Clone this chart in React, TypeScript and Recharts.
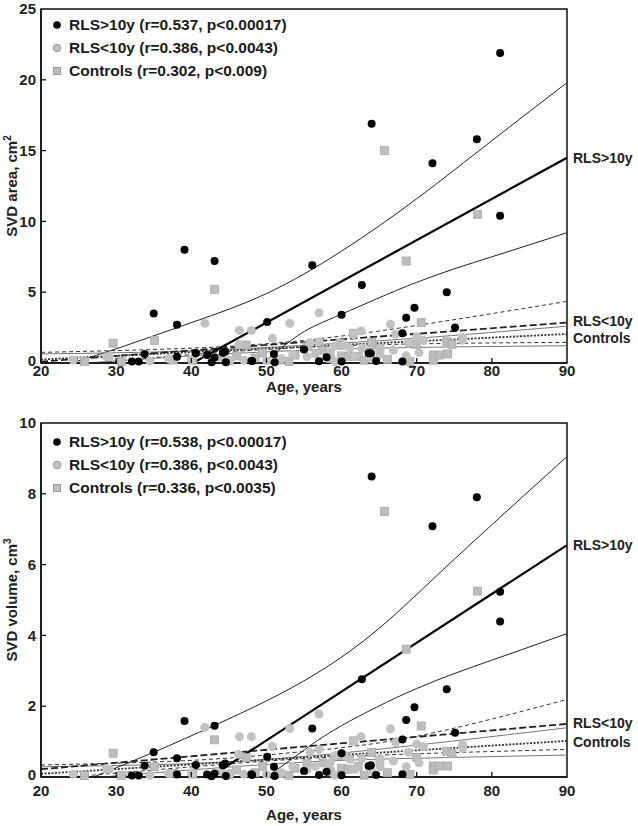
import React from 'react';
import { ComposedChart, Scatter, Line, XAxis, YAxis, ReferenceArea, ReferenceDot, Legend } from 'recharts';

type Pt = [number, number];

const FONT = "'Liberation Sans', Arial, Helvetica, sans-serif";

// ---- tick labels / texts ----
const xTicks = [20, 30, 40, 50, 60, 70, 80, 90];
const areaTicks = [0, 5, 10, 15, 20, 25];
const volumeTicks = [0, 2, 4, 6, 8, 10];
const legendArea = ['RLS>10y (r=0.537, p<0.00017)', 'RLS<10y (r=0.386, p<0.0043)', 'Controls (r=0.302, p<0.009)'];
const legendVolume = ['RLS>10y (r=0.538, p<0.00017)', 'RLS<10y (r=0.386, p<0.0043)', 'Controls (r=0.336, p<0.0035)'];
const endLabels = ['RLS>10y', 'RLS<10y', 'Controls'];
const areaEndLabelY = [14.5, 2.95, 1.75];
const volumeEndLabelY = [6.55, 1.53, 0.99];

// ---- RLS > 10 years ----
const longAges = [32.1, 33.0, 33.8, 35.0, 38.1, 38.1, 39.1, 40.6, 42.1, 42.7, 43.1, 43.1, 44.2, 44.5, 44.6, 48.0, 48.1, 50.1, 51.0, 51.1, 55.0, 56.1, 57.0, 58.0, 60.0, 60.0, 62.7, 63.6, 63.9, 64.0, 64.6, 68.1, 68.1, 68.6, 69.7, 72.1, 74.0, 75.1, 78.0, 81.1, 81.1];
const longArea = [0.1, 0.1, 0.64, 3.5, 2.7, 0.45, 8.0, 0.68, 0.56, 0.05, 7.2, 0.38, 0.73, 0.8, 0.05, 0.15, 0.15, 2.9, 0.64, 0.05, 0.95, 6.9, 0.12, 0.4, 3.4, 0.1, 5.5, 0.68, 0.68, 16.9, 0.14, 2.1, 0.1, 3.2, 3.9, 14.1, 5.0, 2.5, 15.8, 21.9, 10.4];
const longVolume = [0.04, 0.04, 0.32, 0.7, 0.53, 0.07, 1.58, 0.34, 0.07, 0.02, 1.45, 0.1, 0.33, 0.38, 0.03, 0.08, 0.06, 0.57, 0.29, 0.03, 0.17, 1.37, 0.06, 0.15, 0.67, 0.05, 2.76, 0.31, 0.33, 8.49, 0.06, 1.06, 0.08, 1.61, 1.97, 7.08, 2.48, 1.25, 7.9, 5.23, 4.39];

// ---- RLS < 10 years ----
const shortAges = [24.3, 28.7, 29.1, 34.5, 37.0, 40.0, 41.8, 44.0, 45.2, 46.3, 46.4, 47.0, 48.0, 50.0, 50.8, 52.0, 53.1, 53.5, 55.4, 55.8, 56.5, 57.0, 57.0, 58.5, 59.1, 59.1, 60.3, 61.1, 61.6, 61.8, 62.6, 62.7, 64.0, 65.1, 65.1, 66.5, 66.9, 67.2, 68.6, 68.9, 70.0, 70.3, 70.9, 76.1, 76.1];
const shortArea = [0.21, 0.45, 0.45, 0.15, 0.3, 0.25, 2.8, 0.35, 0.2, 1.3, 2.3, 0.2, 2.3, 0.15, 1.74, 0.3, 2.8, 0.6, 0.45, 1.43, 0.64, 3.55, 1.5, 0.8, 1.2, 0.1, 1.3, 1.04, 2.0, 0.45, 2.26, 1.04, 0.3, 0.6, 1.04, 2.73, 0.92, 2.03, 0.52, 1.39, 1.86, 0.73, 1.62, 1.81, 1.6];
const shortVolume = [0.08, 0.23, 0.22, 0.05, 0.1, 0.12, 1.4, 0.15, 0.1, 0.64, 1.14, 0.08, 1.14, 0.07, 0.86, 0.12, 1.37, 0.3, 0.2, 0.69, 0.3, 1.78, 0.78, 0.4, 0.6, 0.05, 0.62, 0.5, 1.02, 0.22, 1.14, 0.52, 0.15, 0.29, 0.52, 1.36, 0.45, 0.98, 0.29, 0.7, 0.93, 0.4, 0.86, 0.92, 0.81];

// ---- Controls ----
const ctrlAges = [25.8, 29.6, 30.7, 35.1, 37.6, 40.2, 43.1, 45.0, 46.0, 47.3, 48.5, 49.5, 51.8, 53.0, 53.8, 55.4, 57.5, 58.5, 59.8, 60.0, 60.9, 61.6, 62.2, 63.0, 64.0, 65.1, 65.7, 66.1, 68.6, 69.1, 70.0, 70.6, 72.2, 72.2, 73.0, 74.0, 74.1, 74.7, 78.1];
const ctrlArea = [0.1, 1.4, 0.1, 1.6, 0.21, 0.2, 5.2, 0.15, 0.5, 1.27, 0.35, 0.7, 0.21, 0.1, 0.56, 1.15, 0.9, 0.3, 1.39, 0.5, 0.45, 2.1, 0.45, 0.2, 1.43, 1.04, 15.0, 0.26, 7.2, 0.09, 1.32, 2.85, 0.56, 0.2, 0.56, 1.5, 0.64, 1.32, 10.5];
const ctrlVolume = [0.04, 0.67, 0.05, 0.29, 0.1, 0.08, 1.05, 0.06, 0.2, 0.55, 0.12, 0.3, 0.1, 0.05, 0.25, 0.39, 0.4, 0.15, 0.6, 0.25, 0.22, 1.02, 0.3, 0.05, 0.69, 0.48, 7.5, 0.12, 3.61, 0.07, 0.55, 1.44, 0.31, 0.2, 0.31, 0.72, 0.31, 0.66, 5.25];

// ---- regression lines and confidence bands ----
const areaLongFit: Pt[] = [[40.2, 0], [90, 14.5]];
const areaLongUpper: Pt[] = [[24, 0], [30, 1.0], [40, 2.85], [50, 4.9], [60, 7.9], [70, 11.6], [80, 15.7], [90, 19.8]];
const areaLongLower: Pt[] = [[49.6, 0], [54.5, 2.05], [60, 3.45], [70, 5.7], [80, 7.5], [90, 9.2]];
const areaShortFit: Pt[] = [[20, 0.1], [90, 2.85]];
const areaShortUpper: Pt[] = [[20, 0.75], [40, 1.05], [55, 1.6], [70, 2.65], [90, 4.35]];
const areaShortLower: Pt[] = [[28, 0], [40, 0.6], [55, 1.1], [70, 1.35], [90, 1.46]];
const areaCtrlFit: Pt[] = [[20, 0.25], [90, 2.05]];
const areaCtrlUpper: Pt[] = [[20, 0.64], [40, 0.85], [55, 1.25], [70, 1.75], [90, 2.6]];
const areaCtrlLower: Pt[] = [[26, 0], [40, 0.5], [55, 0.9], [70, 1.1], [90, 1.22]];

const volLongFit: Pt[] = [[42.5, 0], [90, 6.55]];
const volLongUpper: Pt[] = [[27, 0], [35, 0.7], [43, 1.45], [50, 2.15], [57, 2.97], [65, 4.2], [75, 6.15], [90, 9.05]];
const volLongLower: Pt[] = [[50, 0], [54.5, 0.68], [60, 1.45], [70, 2.5], [80, 3.3], [90, 4.05]];
const volShortFit: Pt[] = [[20, 0.22], [90, 1.5]];
const volShortUpper: Pt[] = [[20, 0.34], [40, 0.47], [55, 0.72], [70, 1.15], [90, 2.19]];
const volShortLower: Pt[] = [[24, 0], [35, 0.2], [50, 0.45], [65, 0.62], [90, 0.78]];
const volCtrlFit: Pt[] = [[20, 0.09], [90, 1.02]];
const volCtrlUpper: Pt[] = [[20, 0.29], [40, 0.38], [55, 0.58], [70, 0.9], [90, 1.39]];
const volCtrlLower: Pt[] = [[28, 0], [40, 0.2], [55, 0.42], [70, 0.53], [90, 0.62]];

const toPoints = (ages: number[], vals: number[]) => ages.map((x, i) => ({ x, y: vals[i] }));
const toLine = (pts: Pt[]) => pts.map(([x, y]) => ({ x, y }));

type LineKind = 'fitLong' | 'bandLong' | 'fitShort' | 'bandShort' | 'fitCtrl' | 'bandCtrl';
const lineStyles: Record<LineKind, any> = {
  fitLong: { stroke: '#000', strokeWidth: 2.2 },
  bandLong: { stroke: '#222', strokeWidth: 1 },
  fitShort: { stroke: '#222', strokeWidth: 1.8, strokeDasharray: '7 3' },
  bandShort: { stroke: '#333', strokeWidth: 1, strokeDasharray: '4 3' },
  fitCtrl: { stroke: '#333', strokeWidth: 1.8, strokeDasharray: '2 1.5' },
  bandCtrl: { stroke: '#777', strokeWidth: 1 },
};

const BlackDot = (p: any) => <circle cx={p.cx} cy={p.cy} r={4} fill="#000" />;
const GrayDot = (p: any) => <circle cx={p.cx} cy={p.cy} r={4.5} fill="#c2c2c2" />;
const GraySquare = (p: any) => (
  <rect x={p.cx - 4} y={p.cy - 4} width={8} height={8} fill="#bdbdbd" stroke="#a9a9a9" strokeWidth={0.8} />
);

const makeXTick = (margin: number, ticks: number[]) => (props: any) => {
  const { x, y, payload } = props;
  const v = payload.value;
  const axisY = y - margin;
  const isEnd = v === ticks[0] || v === ticks[ticks.length - 1];
  return (
    <g>
      {!isEnd && <line x1={x} x2={x} y1={axisY} y2={axisY - 5} stroke="#111" strokeWidth={1.3} />}
      <text x={x} y={y} dy="0.71em" textAnchor="middle" fontFamily={FONT} fontWeight="bold" fontSize={15} fill="#222">{v}</text>
    </g>
  );
};

const makeYTick = (margin: number, ticks: number[]) => (props: any) => {
  const { x, y, payload } = props;
  const v = payload.value;
  const axisX = x + margin;
  const isEnd = v === ticks[0] || v === ticks[ticks.length - 1];
  return (
    <g>
      {!isEnd && <line x1={axisX} x2={axisX + 5} y1={y} y2={y} stroke="#111" strokeWidth={1.3} />}
      <text x={x} y={y} dy={v === ticks[0] ? '0.2em' : '0.35em'} textAnchor="end" fontFamily={FONT} fontWeight="bold" fontSize={15} fill="#222">{v}</text>
    </g>
  );
};

const markerFor = (i: number) => {
  if (i === 0) return <circle cx={6} cy={6} r={3.8} fill="#000" />;
  if (i === 1) return <circle cx={6} cy={6} r={3.8} fill="#c2c2c2" stroke="#888" strokeWidth={0.8} />;
  return <rect x={2.5} y={2.5} width={7} height={7} fill="#bdbdbd" stroke="#888" strokeWidth={0.8} />;
};

const LegendBox = ({ labels }: { labels: string[] }) => (
  <div style={{ fontFamily: FONT, fontWeight: 'bold', fontSize: 15.5, color: '#1a1a1a' }}>
    {labels.map((t, i) => (
      <div key={i} style={{ display: 'flex', alignItems: 'center', height: 23, whiteSpace: 'nowrap' }}>
        <svg width={12} height={12} style={{ marginRight: 6 }}>{markerFor(i)}</svg>
        <span>{t}</span>
      </div>
    ))}
  </div>
);

type PanelProps = {
  top: number;
  height: number;
  marginTop: number;
  xAxisHeight: number;
  xTickMargin: number;
  xTitleGap: number;
  yTicks: number[];
  yTitle: string;
  ySup: string;
  long: number[];
  short: number[];
  ctrl: number[];
  lines: { kind: LineKind; pts: Pt[] }[];
  legend: string[];
  legendTop: number;
  endY: number[];
};

const Panel = (p: PanelProps) => {
  const yMax = p.yTicks[p.yTicks.length - 1];
  const XTitle = (lp: any) => {
    const vb = lp.viewBox;
    return (
      <text x={vb.x + vb.width / 2} y={vb.y + p.xTitleGap} dy="0.35em" textAnchor="middle" fontFamily={FONT} fontWeight="bold" fontSize={15} fill="#222">
        Age, years
      </text>
    );
  };
  const YTitle = (lp: any) => {
    const vb = lp.viewBox;
    const cx = vb.x + 12;
    const cy = vb.y + vb.height / 2;
    return (
      <text x={cx} y={cy} dy="0.35em" textAnchor="middle" transform={`rotate(-90 ${cx} ${cy})`} fontFamily={FONT} fontWeight="bold" fontSize={15} fill="#222">
        <tspan>{p.yTitle}</tspan>
        <tspan dy={-6} fontSize={10}>{p.ySup}</tspan>
      </text>
    );
  };
  return (
    <div style={{ position: 'absolute', left: 0, top: p.top }}>
      <ComposedChart width={638} height={p.height} margin={{ top: p.marginTop, right: 71, bottom: 0, left: 0 }}>
        <XAxis
          type="number"
          dataKey="x"
          domain={[20, 90]}
          ticks={xTicks}
          interval={0}
          tickSize={0}
          tickMargin={p.xTickMargin}
          tickLine={false}
          axisLine={{ stroke: '#111', strokeWidth: 1.5 }}
          tick={makeXTick(p.xTickMargin, xTicks)}
          height={p.xAxisHeight}
          label={{ content: XTitle }}
        />
        <YAxis
          type="number"
          dataKey="y"
          domain={[0, yMax]}
          ticks={p.yTicks}
          interval={0}
          tickSize={0}
          tickMargin={5}
          tickLine={false}
          axisLine={{ stroke: '#111', strokeWidth: 1.5 }}
          tick={makeYTick(5, p.yTicks)}
          width={41}
          label={{ content: YTitle }}
        />
        <ReferenceArea x1={20} x2={90} y1={0} y2={yMax} fill="none" stroke="#111" strokeWidth={1.5} />
        <Scatter data={toPoints(ctrlAges, p.ctrl)} shape={GraySquare} isAnimationActive={false} />
        <Scatter data={toPoints(shortAges, p.short)} shape={GrayDot} isAnimationActive={false} />
        <Scatter data={toPoints(longAges, p.long)} shape={BlackDot} isAnimationActive={false} />
        {p.lines.map((l, i) => (
          <Line
            key={i}
            data={toLine(l.pts)}
            dataKey="y"
            type={l.pts.length > 2 ? 'natural' : 'linear'}
            dot={false}
            activeDot={false}
            isAnimationActive={false}
            {...lineStyles[l.kind]}
          />
        ))}
        {endLabels.map((t, i) => (
          <ReferenceDot
            key={t}
            x={90}
            y={p.endY[i]}
            r={0}
            fill="none"
            stroke="none"
            ifOverflow="visible"
            label={{ value: t, position: 'right', offset: 6, fill: '#222', fontSize: 14, fontWeight: 'bold', fontFamily: FONT }}
          />
        ))}
        <Legend
          layout="vertical"
          align="center"
          verticalAlign="middle"
          wrapperStyle={{ top: p.legendTop, left: 51, width: 320 }}
          content={() => <LegendBox labels={p.legend} />}
        />
      </ComposedChart>
    </div>
  );
};

export default function App() {
  return (
    <div style={{ position: 'absolute', left: 0, top: 0, width: 638, height: 826, background: '#fff' }}>
      <Panel
        top={0}
        height={400}
        marginTop={9}
        xAxisHeight={37}
        xTickMargin={2}
        xTitleGap={24}
        yTicks={areaTicks}
        yTitle="SVD area, cm"
        ySup="2"
        long={longArea}
        short={shortArea}
        ctrl={ctrlArea}
        lines={[
          { kind: 'bandCtrl', pts: areaCtrlUpper },
          { kind: 'bandCtrl', pts: areaCtrlLower },
          { kind: 'fitCtrl', pts: areaCtrlFit },
          { kind: 'bandShort', pts: areaShortUpper },
          { kind: 'bandShort', pts: areaShortLower },
          { kind: 'fitShort', pts: areaShortFit },
          { kind: 'bandLong', pts: areaLongUpper },
          { kind: 'bandLong', pts: areaLongLower },
          { kind: 'fitLong', pts: areaLongFit },
        ]}
        legend={legendArea}
        legendTop={13}
        endY={areaEndLabelY}
      />
      <Panel
        top={410}
        height={416}
        marginTop={13}
        xAxisHeight={49}
        xTickMargin={8}
        xTitleGap={38}
        yTicks={volumeTicks}
        yTitle="SVD volume, cm"
        ySup="3"
        long={longVolume}
        short={shortVolume}
        ctrl={ctrlVolume}
        lines={[
          { kind: 'bandCtrl', pts: volCtrlUpper },
          { kind: 'bandCtrl', pts: volCtrlLower },
          { kind: 'fitCtrl', pts: volCtrlFit },
          { kind: 'bandShort', pts: volShortUpper },
          { kind: 'bandShort', pts: volShortLower },
          { kind: 'fitShort', pts: volShortFit },
          { kind: 'bandLong', pts: volLongUpper },
          { kind: 'bandLong', pts: volLongLower },
          { kind: 'fitLong', pts: volLongFit },
        ]}
        legend={legendVolume}
        legendTop={20}
        endY={volumeEndLabelY}
      />
    </div>
  );
}
